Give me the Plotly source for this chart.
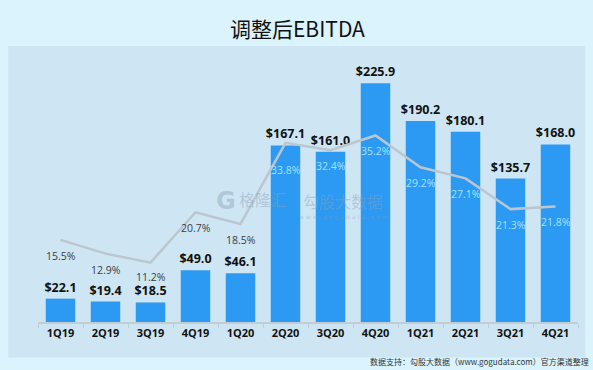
import plotly.graph_objects as go

quarters = ["1Q19", "2Q19", "3Q19", "4Q19", "1Q20", "2Q20", "3Q20", "4Q20", "1Q21", "2Q21", "3Q21", "4Q21"]
ebitda = [22.1, 19.4, 18.5, 49.0, 46.1, 167.1, 161.0, 225.9, 190.2, 180.1, 135.7, 168.0]
margin_pct = [15.5, 12.9, 11.2, 20.7, 18.5, 33.8, 32.4, 35.2, 29.2, 27.1, 21.3, 21.8]

W, H = 593, 370
L, R, T, B = 37.8, 15.2, 60, 47.5
pw, ph = W - L - R, H - T - B

def px(x):
    return (x - L) / pw

def py(y):
    return (H - B - y) / ph

fig = go.Figure()
fig.add_trace(go.Bar(
    x=quarters, y=ebitda,
    marker=dict(color="#2C9AF2", line=dict(width=0)),
    text=[f"<b>${v:.1f}</b>" for v in ebitda],
    textposition="outside",
    constraintext="none",
    textfont=dict(family="Open Sans", size=12.5, color="#111111"),
    cliponaxis=False,
    width=0.655,
    hoverinfo="skip",
))
fig.add_trace(go.Scatter(
    x=quarters, y=margin_pct, yaxis="y2",
    mode="lines",
    line=dict(color="#BCC6CE", width=2.5),
    hoverinfo="skip",
))

annotations = []
for i, (q, p) in enumerate(zip(quarters, margin_pct)):
    col = "#3C3C3C" if i < 5 else "#A3E2FF"
    shift = {"2Q20": -27, "3Q19": -14}.get(q, -16)
    annotations.append(dict(
        x=q, y=p, xref="x", yref="y2", text=f"{p:.1f}%", showarrow=False,
        yshift=shift, yanchor="middle", font=dict(family="Open Sans", size=10.5, color=col),
    ))

annotations.append(dict(
    x=px(297), y=py(28), xref="paper", yref="paper", text="调整后EBITDA",
    xanchor="center", yanchor="middle",
    showarrow=False, font=dict(family="Noto Sans CJK SC", size=21, color="#111111"),
))
annotations.append(dict(
    x=px(591), y=py(362), xref="paper", yref="paper", text="数据支持：勾股大数据（www.gogudata.com）官方渠道整理",
    showarrow=False, xanchor="right", yanchor="middle",
    font=dict(family="Noto Sans CJK SC", size=8, color="#333333"),
))
wm = "rgba(140,160,185,0.45)"
annotations += [
    dict(x=px(226), y=py(201), xref="paper", yref="paper", text="<b>G</b>", showarrow=False,
         xanchor="center", yanchor="middle", font=dict(family="DejaVu Sans", size=24, color=wm)),
    dict(x=px(263), y=py(199), xref="paper", yref="paper", text="格隆汇", showarrow=False,
         xanchor="center", yanchor="middle", font=dict(family="Noto Sans CJK SC", size=16, color=wm)),
    dict(x=px(343), y=py(201), xref="paper", yref="paper", text="勾股大数据", showarrow=False,
         xanchor="center", yanchor="middle", font=dict(family="Noto Sans CJK SC", size=16, color=wm)),
    dict(x=px(343), y=py(217), xref="paper", yref="paper", text="w w w . g o g u d a t a . c o m", showarrow=False,
         xanchor="center", yanchor="middle", font=dict(family="DejaVu Sans", size=6, color=wm)),
]

fig.update_layout(
    width=W, height=H,
    margin=dict(l=L, r=R, t=T, b=B, pad=0),
    paper_bgcolor="#DBF3FD",
    plot_bgcolor="rgba(0,0,0,0)",
    showlegend=False,
    bargap=0.345,
    xaxis=dict(
        type="category", range=[-0.5, 11.5],
        showline=True, linecolor="#C3CDD4", linewidth=1.5,
        ticks="outside", tickson="boundaries", ticklen=4, tickcolor="#C3CDD4",
        tickfont=dict(family="Open Sans", size=11, color="#111111", weight="bold"),
        showgrid=False, zeroline=False,
    ),
    yaxis=dict(range=[0, ph / 1.0589], visible=False, showgrid=False, zeroline=False),
    yaxis2=dict(range=[0, ph / 5.31], overlaying="y", visible=False, showgrid=False, zeroline=False),
    shapes=[dict(
        type="rect", xref="paper", yref="paper",
        x0=px(8), x1=px(585), y0=py(358), y1=py(46),
        fillcolor="#CEE6F4", line=dict(width=0), layer="below",
    )],
    annotations=annotations,
)

fig.write_html("out.html", config={"displayModeBar": False, "staticPlot": True})

with open("out.html", "r", encoding="utf-8") as f:
    html = f.read()
html = html.replace("<head>", "<head><style>html,body{margin:0;padding:0;overflow:hidden;background:#DBF3FD;}</style>", 1)
with open("out.html", "w", encoding="utf-8") as f:
    f.write(html)
